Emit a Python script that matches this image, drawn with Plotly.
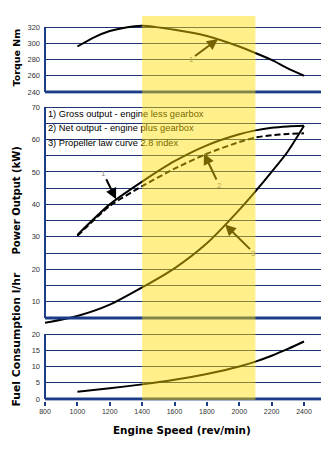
import plotly.graph_objects as go

W, H = 334, 450

# ---------------- data ----------------
rpm_torque = [1000, 1100, 1200, 1300, 1400, 1600, 1800, 2000, 2100, 2200, 2300, 2400]
torque_nm = [296, 307, 315, 319.5, 321.5, 316.5, 309, 296, 288, 279.5, 269, 260]

rpm_power = [1000, 1200, 1400, 1600, 1800, 2000, 2100, 2200, 2300, 2400]
gross_kw = [30.6, 40, 47, 53.3, 58.2, 61.6, 62.8, 63.6, 64, 64.2]
net_kw = [30.3, 39.5, 45.6, 51, 55.6, 59.2, 60.6, 61.3, 61.7, 61.9]

rpm_prop = [800, 1000, 1200, 1400, 1600, 1800, 2000, 2100, 2200, 2300, 2400]
prop_kw = [3.5, 5.6, 9.1, 14.4, 20.3, 28, 38.3, 44, 50, 56.3, 64.2]

rpm_fuel = [1000, 1200, 1400, 1600, 1800, 2000, 2100, 2200, 2300, 2400]
fuel_lhr = [2.25, 3.3, 4.5, 5.9, 7.7, 10, 11.5, 13.3, 15.4, 17.7]

band_rpm = [1400, 2100]

x_ticks = [800, 1000, 1200, 1400, 1600, 1800, 2000, 2200, 2400]
torque_ticks = [240, 260, 280, 300, 320]
power_ticks = list(range(5, 75, 5))
power_labels = [str(v) if v % 10 == 0 else '' for v in power_ticks]
fuel_ticks = [0, 5, 10, 15, 20]

legend_lines = ['1) Gross output - engine less gearbox',
                '2) Net output - engine plus gearbox',
                '3) Propeller law curve 2.8 index']
legend_kw = [67.5, 63.2, 58.6]

# arrow callouts: label, panel, label pos (rpm, value), head pos (rpm, value)
call_labels = ['1', '1', '2', '3']
call_panel = ['y', 'y2', 'y2', 'y2']
call_text_rpm = [1702, 1160, 1877, 2091]
call_text_val = [280.6, 49.6, 45.8, 25.0]
call_head_rpm = [1869, 1239, 1782, 1912]
call_head_val = [305.2, 41.6, 55.7, 33.8]
call_in_band = [True, False, True, True]

# ---------------- geometry helpers ----------------
NAVY = '#1b3c86'
GRID = '#1d3570'
X_RANGE = [800, 2505]
X_DOM = [45 / W, 321 / W]


def ydom(rng, va, pa, vb, pb):
    s = (pb - pa) / (vb - va)
    lo = pa + (rng[0] - va) * s
    hi = pa + (rng[1] - va) * s
    return [1 - lo / H, 1 - hi / H]


top_rng = [238, 324]
mid_rng = [3.0, 71]
bot_rng = [-0.5, 20.8]
top_dom = ydom(top_rng, 320, 27, 240, 92)
mid_dom = ydom(mid_rng, 70, 107, 5, 318)
bot_dom = ydom(bot_rng, 20, 334, 0, 399)

fig = go.Figure()

line_style = dict(color='black', width=2, shape='spline', smoothing=0.7)

fig.add_trace(go.Scatter(x=rpm_torque, y=torque_nm, mode='lines', line=line_style,
                         xaxis='x', yaxis='y', hoverinfo='skip'))
fig.add_trace(go.Scatter(x=rpm_power, y=gross_kw, mode='lines', line=line_style,
                         xaxis='x2', yaxis='y2', hoverinfo='skip'))
fig.add_trace(go.Scatter(x=rpm_power, y=net_kw, mode='lines',
                         line=dict(color='black', width=2, dash='6px,3px', shape='spline', smoothing=0.7),
                         xaxis='x2', yaxis='y2', hoverinfo='skip'))
fig.add_trace(go.Scatter(x=rpm_prop, y=prop_kw, mode='lines', line=line_style,
                         xaxis='x2', yaxis='y2', hoverinfo='skip'))
fig.add_trace(go.Scatter(x=rpm_fuel, y=fuel_lhr, mode='lines', line=line_style,
                         xaxis='x3', yaxis='y3', hoverinfo='skip'))

# legend text in the power panel (under the band so it gets tinted)
fig.add_trace(go.Scatter(x=[818] * len(legend_lines), y=legend_kw, mode='text',
                         text=legend_lines, textposition='middle right',
                         textfont=dict(family='Liberation Sans, Arial', size=9.3, color='black'),
                         xaxis='x2', yaxis='y2', hoverinfo='skip'))

tickfont = dict(family='Liberation Sans, Arial', size=7.5, color='#333333')

common_x = dict(range=X_RANGE, domain=X_DOM, showgrid=False, zeroline=False, showline=False,
                fixedrange=True)
common_y = dict(showgrid=True, gridcolor=GRID, gridwidth=1, zeroline=False, showline=False,
                ticks='', tickfont=tickfont, ticklabelstandoff=4, fixedrange=True)

fig.update_layout(
    width=W, height=H,
    margin=dict(l=0, r=0, t=0, b=0, autoexpand=False),
    paper_bgcolor='white', plot_bgcolor='white',
    showlegend=False,
    xaxis=dict(common_x, anchor='y', showticklabels=False, ticks=''),
    xaxis2=dict(common_x, anchor='y2', matches='x', showticklabels=False, ticks=''),
    xaxis3=dict(common_x, anchor='y3', matches='x', tickvals=x_ticks, ticks='outside',
                ticklen=4, tickwidth=1.5, tickcolor=NAVY, tickfont=dict(tickfont, size=7)),
    yaxis=dict(common_y, domain=top_dom, range=top_rng, tickvals=torque_ticks, anchor='x'),
    yaxis2=dict(common_y, domain=mid_dom, range=mid_rng, tickvals=power_ticks,
                ticktext=power_labels, anchor='x2'),
    yaxis3=dict(common_y, domain=bot_dom, range=bot_rng, tickvals=fuel_ticks, anchor='x3'),
)

shapes = []
# thick base lines + left axis lines
for yref, base, top in [('y', 240, 320), ('y2', 5, 70), ('y3', 0, 20)]:
    shapes.append(dict(type='line', xref='paper', yref=yref, x0=X_DOM[0], x1=X_DOM[1],
                       y0=base, y1=base, line=dict(color=NAVY, width=3), layer='above'))
    shapes.append(dict(type='line', xref='paper', yref=yref, x0=X_DOM[0], x1=X_DOM[0],
                       y0=base, y1=top, line=dict(color=NAVY, width=2), layer='above'))
# semi-transparent yellow operating band
shapes.append(dict(type='rect', xref='x', yref='paper', x0=band_rpm[0], x1=band_rpm[1],
                   y0=1 - 400 / H, y1=1 - 16 / H, fillcolor='rgba(255,222,0,0.45)',
                   line=dict(width=0), layer='above'))
fig.update_layout(shapes=shapes)

annotations = []
for lab, yr, tx, ty, hx, hy, inb in zip(call_labels, call_panel, call_text_rpm, call_text_val,
                                        call_head_rpm, call_head_val, call_in_band):
    xr = {'y': 'x', 'y2': 'x2', 'y3': 'x3'}[yr]
    annotations.append(dict(
        x=hx, y=hy, xref=xr, yref=yr, ax=tx, ay=ty, axref=xr, ayref=yr,
        text=lab, showarrow=True, arrowhead=2, arrowsize=1.1, arrowwidth=2,
        arrowcolor='#736400' if inb else 'black', standoff=0, startstandoff=0,
        font=dict(family='Liberation Sans, Arial', size=8, color='#b9a853' if inb else '#8a8a8a')))

title_font = dict(family='DejaVu Sans', color='black', weight='bold')
for txt, xpx, ypx, size in [('Torque Nm', 16, 57.5, 9.5),
                            ('Power Output (kW)', 15.5, 201, 10),
                            ('Fuel Consumption l/hr', 15.5, 340, 10.8)]:
    annotations.append(dict(text=txt, xref='paper', yref='paper', x=xpx / W, y=1 - ypx / H,
                            textangle=-90, showarrow=False, xanchor='center', yanchor='middle',
                            font=dict(title_font, size=size)))
annotations.append(dict(text='Engine Speed (rev/min)', xref='paper', yref='paper', x=182 / W,
                        y=1 - 430 / H, showarrow=False, xanchor='center', yanchor='middle',
                        font=dict(title_font, size=10.4)))
fig.update_layout(annotations=annotations)

fig.write_html('out.html')
